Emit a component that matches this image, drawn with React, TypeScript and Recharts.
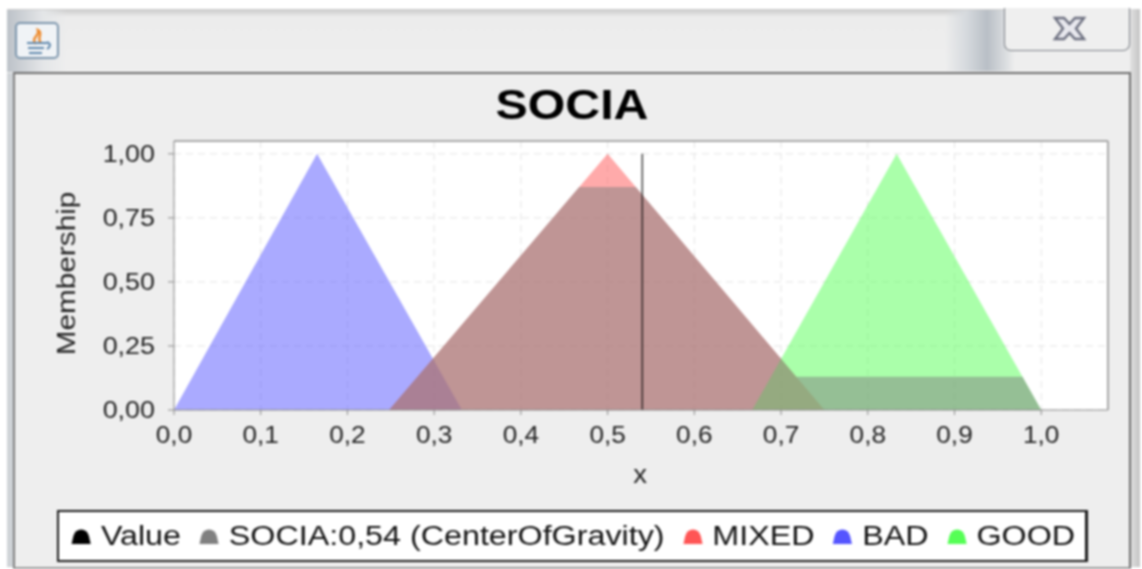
import React from "react";
import { ComposedChart, Area, Line, XAxis, YAxis, CartesianGrid, ReferenceLine } from "recharts";

const badPoints = [{ x: 0, y: 0 }, { x: 0.165, y: 1 }, { x: 0.332, y: 0 }];
const mixedPoints = [{ x: 0.248, y: 0 }, { x: 0.5, y: 1 }, { x: 0.75, y: 0 }];
const goodPoints = [{ x: 0.6667, y: 0 }, { x: 0.8333, y: 1 }, { x: 1, y: 0 }];
const sociaPoints = [
  { x: 0.248, y: 0 }, { x: 0.4672, y: 0.87 }, { x: 0.5325, y: 0.87 },
  { x: 0.7175, y: 0.13 }, { x: 0.9783, y: 0.13 }, { x: 1, y: 0 },
];
const valuePoints = [{ x: 0.54, y: 0 }, { x: 0.54, y: 1 }];
const xTicks = [0, 0.1, 0.2, 0.3, 0.4, 0.5, 0.6, 0.7, 0.8, 0.9, 1];
const yTicks = [0, 0.25, 0.5, 0.75, 1];
const legendNames = ["Value", "SOCIA:0,54 (CenterOfGravity)", "MIXED", "BAD", "GOOD"];
const legendColors = ["#000000", "#808080", "#ff5555", "#5555ff", "#55ff55"];

const FONT = "'Liberation Sans', Arial, sans-serif";
const INK = "#222";

const XTick = (p: any) => (
  <text transform={`translate(${p.x},${p.y + 26}) scale(1.14,1)`} textAnchor="middle" fontFamily={FONT} fontSize={23} fill={INK}>
    {p.payload.value.toFixed(1).replace(".", ",")}
  </text>
);
const YTick = (p: any) => (
  <text transform={`translate(${p.x - 11},${p.y + 8}) scale(1.17,1)`} textAnchor="end" fontFamily={FONT} fontSize={23} fill={INK}>
    {p.payload.value.toFixed(2).replace(".", ",")}
  </text>
);
const XTitle = (p: any) => (
  <text transform={`translate(${p.viewBox.x + p.viewBox.width / 2 - 1},${p.viewBox.y + 73}) scale(1.1,1)`} textAnchor="middle" fontFamily={FONT} fontSize={25} fill={INK}>x</text>
);
const YTitle = (p: any) => (
  <text transform={`translate(${p.viewBox.x + 35},${p.viewBox.y + p.viewBox.height / 2 - 2}) rotate(-90) scale(1.19,1)`} textAnchor="middle" fontFamily={FONT} fontSize={25} fill={INK}>Membership</text>
);

const Dome = ({ color }: { color: string }) => (
  <svg width={17} height={17} viewBox="0 0 17 17" style={{ flex: "none" }}>
    <path d="M0.5 16 L2 8 Q3.5 1.5 8.5 1.5 Q13.5 1.5 15 8 L16.5 16 Z" fill={color} />
  </svg>
);

export default function App() {
  return (
    <div style={{ position: "absolute", left: 0, top: 0, width: 1142, height: 569, background: "#fff", overflow: "hidden", filter: "blur(0.8px)" }}>
      {/* window chrome */}
      <div style={{ position: "absolute", left: 7, top: 9, width: 1133, height: 558, background: "linear-gradient(#c9c9c9 0px,#ececec 8px,#efefef 64px)" }} />
      <div style={{ position: "absolute", left: 7, top: 10, width: 60, height: 62, background: "linear-gradient(90deg,#bcc2c8,#e4e6e8 60%,rgba(238,238,238,0))" }} />
      <div style={{ position: "absolute", left: 945, top: 10, width: 70, height: 61, background: "linear-gradient(90deg,rgba(238,238,238,0),#d6dade 30%,#b9bfc6 60%,#d8dbde 85%,rgba(238,238,238,0))" }} />
      <div style={{ position: "absolute", left: 1130, top: 9, width: 10, height: 558, background: "linear-gradient(90deg,#e2e2e2,#c4c4c4)" }} />
      <div style={{ position: "absolute", left: 7, top: 73, width: 6, height: 494, background: "#cfd3d7" }} />
      <div style={{ position: "absolute", left: 13, top: 72, width: 1114, height: 493, background: "#eeeeee", border: "2px solid #6e6e6e", borderBottomColor: "#9a9a9a", borderLeftColor: "#7f7f7f" }} />
      <div style={{ position: "absolute", left: 1004, top: 8, width: 124, height: 42, background: "#efefef", border: "1px solid #7b7f86", borderTop: "none", borderRadius: "0 0 7px 7px" }} />
      <svg style={{ position: "absolute", left: 0, top: 0 }} width={1142} height={569}>
        <rect x={16} y={23} width={42} height={35} rx={4} fill="#f0f3f6" stroke="#7d96ad" strokeWidth={2} />
        <path d="M36 44 C30 38 40 36 38 30 C44 33 36 38 41 43" fill="none" stroke="#ee8a2c" strokeWidth={2.4} />
        <path d="M27 43 H47 M28 48 H44 M29 53 H42" stroke="#5f87ac" strokeWidth={2} />
        <path d="M47 42 Q53 45 47 49" fill="none" stroke="#5f87ac" strokeWidth={2} />
        <path d="M1055 18 L1064 18 L1069.5 24 L1075 18 L1084 18 L1076 28.5 L1084 39 L1075 39 L1069.5 33 L1064 39 L1055 39 L1063 28.5 Z" fill="#e8e8ee" stroke="#6d7080" strokeWidth={2.4} />
      </svg>

      {/* title */}
      <svg style={{ position: "absolute", left: 0, top: 0 }} width={1142} height={569}>
        <text transform="translate(572,119) scale(1.15,1)" textAnchor="middle" fontFamily={FONT} fontWeight={700} fontSize={42} fill="#000">SOCIA</text>
      </svg>

      {/* chart */}
      <div style={{ position: "absolute", left: 0, top: 0 }}>
        <ComposedChart width={1142} height={569} margin={{ top: 141, right: 34, bottom: 99, left: 40 }}>
          <CartesianGrid fill="#ffffff" stroke="#e4e4e4" strokeDasharray="7 5" horizontalValues={yTicks} verticalValues={xTicks} />
          <XAxis dataKey="x" type="number" domain={[0, 1.077]} ticks={xTicks} interval={0} height={60}
            stroke="#8a8a8a" tickSize={5} tick={<XTick />} label={{ content: (p: any) => <XTitle {...p} /> }} />
          <YAxis type="number" domain={[0, 1.05]} ticks={yTicks} interval={0} width={134}
            stroke="#8a8a8a" tickSize={6} tick={<YTick />} label={{ content: (p: any) => <YTitle {...p} /> }} />
          <ReferenceLine y={1.05} stroke="#a8a8a8" strokeWidth={2} />
          <ReferenceLine x={1.077} stroke="#a8a8a8" strokeWidth={2} />
          <Area data={badPoints} dataKey="y" name="BAD" type="linear" fill="#5555ff" fillOpacity={0.5} stroke="none" isAnimationActive={false} dot={false} activeDot={false} />
          <Area data={mixedPoints} dataKey="y" name="MIXED" type="linear" fill="#ff5555" fillOpacity={0.5} stroke="none" isAnimationActive={false} dot={false} activeDot={false} />
          <Area data={goodPoints} dataKey="y" name="GOOD" type="linear" fill="#55ff55" fillOpacity={0.5} stroke="none" isAnimationActive={false} dot={false} activeDot={false} />
          <Area data={sociaPoints} dataKey="y" name="SOCIA" type="linear" fill="#808080" fillOpacity={0.5} stroke="none" isAnimationActive={false} dot={false} activeDot={false} />
          <Line data={valuePoints} dataKey="y" name="Value" type="linear" stroke="#000" strokeOpacity={0.7} strokeWidth={1.6} isAnimationActive={false} dot={false} activeDot={false} />
        </ComposedChart>
      </div>

      {/* legend */}
      <div style={{ position: "absolute", left: 57, top: 510, width: 1026, height: 48, background: "#fff", border: "2px solid #1a1a1a", borderRightWidth: 3, overflow: "hidden" }}>
        <div style={{ position: "absolute", left: 12, top: 0, height: 48, display: "flex", alignItems: "center", whiteSpace: "nowrap", fontFamily: FONT, fontSize: 27, color: "#111", transform: "scaleX(1.195)", transformOrigin: "0 0" }}>
          {legendNames.map((n, i) => (
            <div key={n} style={{ display: "flex", alignItems: "center", marginRight: 15 }}>
              <Dome color={legendColors[i]} />
              <span style={{ marginLeft: 8 }}>{n}</span>
            </div>
          ))}
        </div>
      </div>
    </div>
  );
}
